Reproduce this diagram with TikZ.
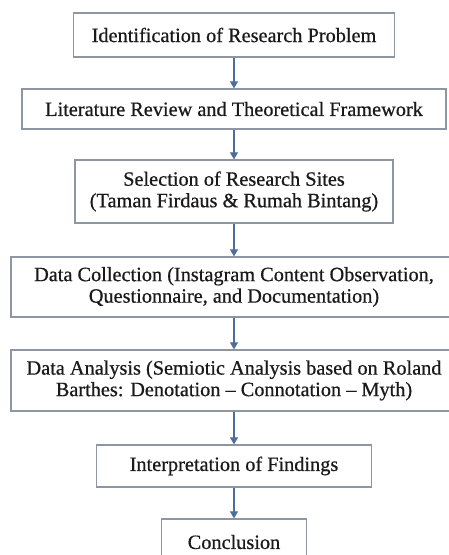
\documentclass[tikz,border=0pt]{standalone}
\usepackage{fontspec}
\setmainfont{Liberation Serif}
\usetikzlibrary{arrows.meta}
\definecolor{boxline}{HTML}{8E96A3}
\definecolor{arrowcol}{HTML}{4F6D9A}
\definecolor{txt}{HTML}{1A1A1A}
\tikzset{
  stepbox/.style={draw=boxline, line width=1.3pt, fill=white, text=txt,
    align=center, inner sep=0pt,
    font=\fontsize{20.3}{21.5}\selectfont\addfontfeature{FakeBold=0.6}},
  flow/.style={draw=arrowcol, line width=1.1pt, -{Triangle[length=7pt,width=8pt]}}
}
\begin{document}
\begin{tikzpicture}[x=1pt,y=-1pt]
\path[use as bounding box] (0,0) rectangle (449,555);
\fill[white] (0,0) rectangle (449,555);
\begin{scope}
\clip (0,0) rectangle (449,555);
\node[stepbox, minimum width=321pt, minimum height=44pt] (b1) at (234,35)
  {Identification of Research Problem};
\node[stepbox, minimum width=424pt, minimum height=40pt] (b2) at (234,109)
  {Literature Review and Theoretical Framework};
\node[stepbox, minimum width=318pt, minimum height=63pt] (b3) at (234,191.5)
  {Selection of Research Sites\\(Taman Firdaus \& Rumah Bintang)};
\node[stepbox, minimum width=446pt, minimum height=60pt] (b4) at (234,287)
  {Data Collection (Instagram Content Observation,\\Questionnaire, and Documentation)};
\node[stepbox, minimum width=446pt, minimum height=61pt] (b5) at (234,380.5)
  {Data Analysis (Semiotic Analysis based on Roland\\Barthes: Denotation -- Connotation -- Myth)};
\node[stepbox, minimum width=275pt, minimum height=42pt] (b6) at (234,466)
  {Interpretation of Findings};
\node[stepbox, minimum width=145pt, minimum height=46pt] (b7) at (234,542)
  {Conclusion};
\draw[flow] (b1) -- (b2);
\draw[flow] (b2) -- (b3);
\draw[flow] (b3) -- (b4);
\draw[flow] (b4) -- (b5);
\draw[flow] (b5) -- (b6);
\draw[flow] (b6) -- (b7);
\end{scope}
\end{tikzpicture}
\end{document}
